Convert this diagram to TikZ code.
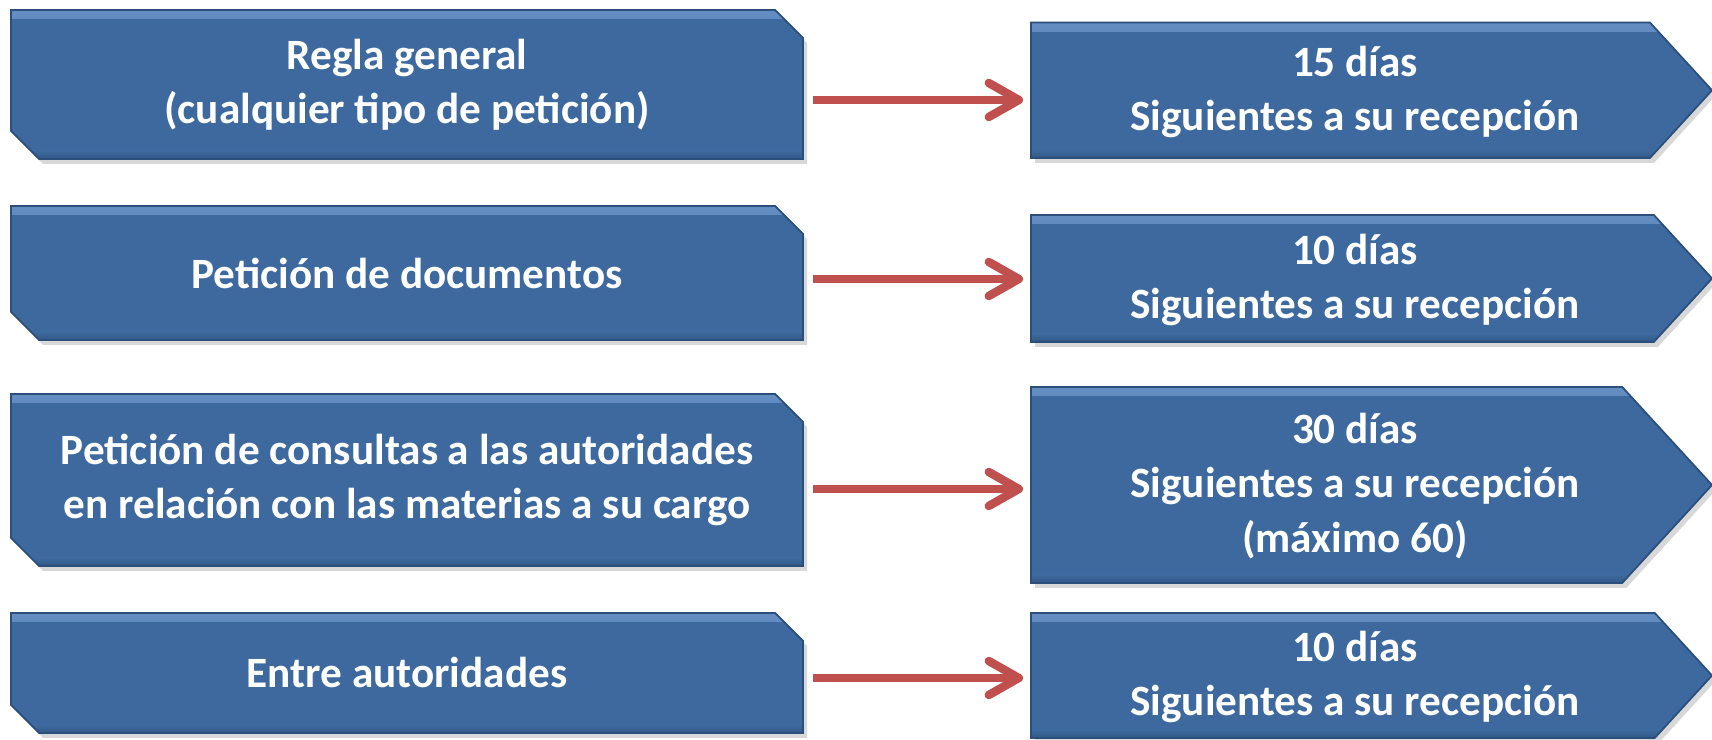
\documentclass[tikz,border=0pt]{standalone}
\usepackage{fontspec}
\setmainfont{Carlito}
\usetikzlibrary{shapes.misc}
\usetikzlibrary{shapes.symbols}
\usetikzlibrary{positioning}
\usetikzlibrary{arrows.meta}
\usetikzlibrary{shadows}
\definecolor{boxblue}{RGB}{61,105,158}
\definecolor{boxedge}{RGB}{44,78,122}
\definecolor{boxlight}{RGB}{100,142,194}
\definecolor{boxdark}{RGB}{50,88,135}
\definecolor{arrowred}{RGB}{192,80,77}

\begin{document}
\begin{tikzpicture}[
    bevel/.style={path picture={
        \shade[top color=boxlight, bottom color=boxblue]
          (path picture bounding box.north west) rectangle ([yshift=-0.09cm]path picture bounding box.north east);
        \shade[top color=boxblue, bottom color=boxdark]
          ([yshift=0.08cm]path picture bounding box.south west) rectangle (path picture bounding box.south east);}},
    ask/.style={chamfered rectangle, chamfered rectangle corners={north east,south west},
      chamfered rectangle sep=0.14cm, fill=boxblue, draw=boxedge, line width=0.5pt,
      minimum width=7.92cm, inner sep=0pt, outer sep=0pt, align=center, text=white,
      font=\fontsize{12.3}{15.5}\selectfont\bfseries, bevel,
      drop shadow={shadow xshift=0.04cm, shadow yshift=-0.05cm, opacity=0.3}},
    due/.style={signal, signal to=east, signal pointer angle=95, fill=boxblue,
      draw=boxedge, line width=0.5pt, minimum width=6.81cm, inner sep=0pt, outer sep=0pt,
      bevel, drop shadow={shadow xshift=0.04cm, shadow yshift=-0.05cm, opacity=0.3}},
    days/.style={align=center, text=white, font=\fontsize{12.3}{15.5}\selectfont\bfseries},
    link/.style={draw=arrowred, line width=2.4pt,
      -{Straight Barb[length=0.3cm,width=0.34cm,round]},
      shorten <=0.1cm, shorten >=0.08cm}
  ]
  \useasboundingbox[fill=white] (0,0) rectangle (17.12,7.40);
  % kind of request
  \node[ask, minimum height=1.49cm] (ask1) at (4.07,6.555) {Regla general\\(cualquier tipo de petición)};
  \node[ask, minimum height=1.34cm] (ask2) at (4.07,4.67) {Petición de documentos};
  \node[ask, minimum height=1.72cm] (ask3) at (4.07,2.60) {Petición de consultas a las autoridades\\en relación con las materias a su cargo};
  \node[ask, minimum height=1.20cm] (ask4) at (4.07,0.67) {Entre autoridades};

  % time limits
  \node[due, anchor=west, minimum height=1.355cm] (due1) at (10.31,6.497) {};
  \node[due, anchor=west, minimum height=1.27cm] (due2) at (10.31,4.615) {};
  \node[due, anchor=west, minimum height=1.96cm] (due3) at (10.31,2.55) {};
  \node[due, anchor=west, minimum height=1.25cm] (due4) at (10.31,0.645) {};
  \node[days] (days1) at (13.55,6.48) {15 días\\Siguientes a su recepción};
  \node[days] (days2) at (13.55,4.60) {10 días\\Siguientes a su recepción};
  \node[days] (days3) at (13.55,2.54) {30 días\\Siguientes a su recepción\\(máximo 60)};
  \node[days] (days4) at (13.55,0.63) {10 días\\Siguientes a su recepción};

  \draw[link] ([yshift=-0.155cm]ask1.east) -- ([yshift=-0.155cm]ask1.east -| due1.west);
  \draw[link] ([yshift=-0.06cm]ask2.east) -- ([yshift=-0.06cm]ask2.east -| due2.west);
  \draw[link] ([yshift=-0.09cm]ask3.east) -- ([yshift=-0.09cm]ask3.east -| due3.west);
  \draw[link] ([yshift=-0.05cm]ask4.east) -- ([yshift=-0.05cm]ask4.east -| due4.west);
\end{tikzpicture}
\end{document}
